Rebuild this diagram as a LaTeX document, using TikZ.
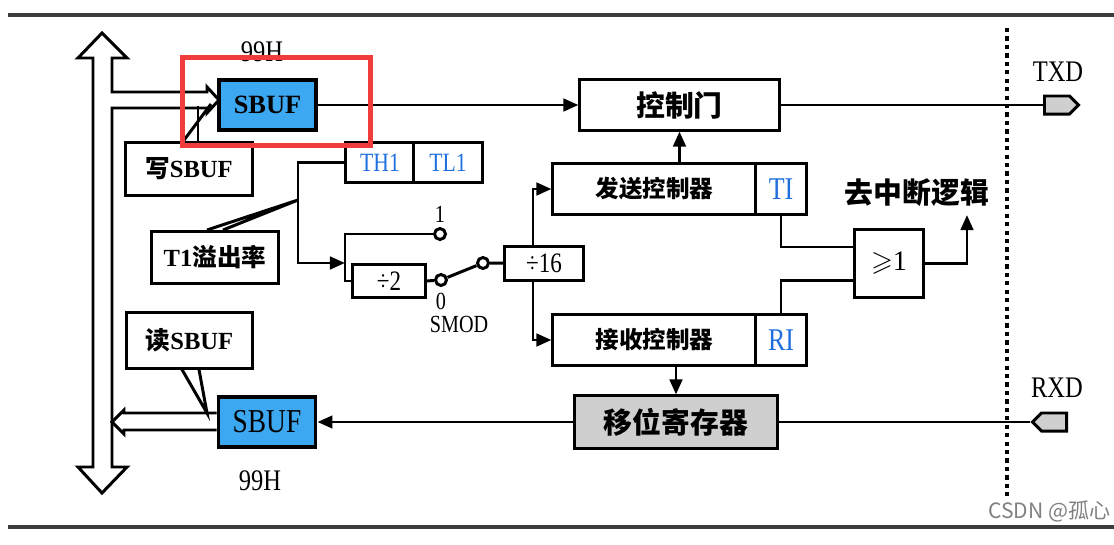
\documentclass[tikz,border=0pt]{standalone}
\usepackage{amssymb}
\usepackage{fontspec}
\setmainfont{Liberation Serif}
\newfontfamily\cjk{Noto Sans CJK SC}
\newfontfamily\cond{Liberation Serif}[FakeStretch=0.82]
\usetikzlibrary{arrows.meta,shapes.symbols}
\definecolor{sbufblue}{HTML}{3DA8F2}
\definecolor{regblue}{HTML}{1F6FDF}
\definecolor{pingray}{HTML}{CFCFCF}
\definecolor{markred}{HTML}{F23B3B}
\definecolor{rulegray}{HTML}{3C3C3C}

\begin{document}
\begin{tikzpicture}[x=0.01cm,y=-0.01cm,line width=0.85pt,
  >={Triangle[length=1.5mm,width=1.25mm]},
  box/.style={draw,fill=white,inner sep=0pt,font=\cond\fontsize{8}{9}\selectfont},
  sbuf/.style={box,fill=sbufblue,line width=1.1pt,minimum width=0.97cm,minimum height=0.5cm},
  note/.style={box,minimum width=1.26cm,minimum height=0.52cm,font=\bfseries\fontsize{7}{8}\selectfont},
  reg/.style={box,text=regblue,minimum width=0.68cm,minimum height=0.4cm,font=\cond\fontsize{7.5}{8}\selectfont},
  ctrl/.style={box,minimum width=2.03cm,minimum height=0.5cm,font=\cjk\bfseries\fontsize{6.7}{8}\selectfont},
  flag/.style={box,text=regblue,minimum width=0.5cm,minimum height=0.5cm,font=\cond\fontsize{9}{10}\selectfont},
  sw/.style={circle,draw,fill=white,inner sep=0pt,minimum size=0.11cm},
  iopad/.style={signal,draw,fill=pingray,inner sep=0pt,minimum width=0.34cm,minimum height=0.18cm},
  lbl/.style={inner sep=0pt,font=\cond\fontsize{8.5}{9}\selectfont},
  small/.style={inner sep=0pt,font=\cond\fontsize{7}{8}\selectfont},
  dotline/.style={line width=1.2pt,dash pattern=on 1.2pt off 1.2pt}]
  \useasboundingbox (0,0) rectangle (1114,545);
  % frame rules
  \draw[rulegray,line width=1pt] (8,15) -- (1114,15);
  \draw[rulegray,line width=1pt] (8,527) -- (1114,527);
  % data bus with write branch
  \draw[fill=white] (93,58) -- (78,58) -- (102,33) -- (127,58) -- (112,58) -- (112,92)
    -- (207,92) -- (207,87) -- (219,100) -- (207,113) -- (207,108) -- (112,108)
    -- (112,467) -- (127,467) -- (102,493) -- (78,467) -- (93,467) -- cycle;
  % blocks
  \node[sbuf,font=\bfseries\fontsize{7.5}{8}\selectfont] (sbufT) at (267.5,105) {SBUF};
  \node[sbuf,font=\cond\fontsize{9.5}{10}\selectfont] (sbufB) at (267,422) {SBUF};
  \node[note] (wrt) at (189,169) {{\cjk 写}SBUF};
  \node[note,minimum height=0.55cm] (rd) at (189.5,340.5) {{\cjk 读}SBUF};
  \node[note] (ovf) at (215,257.5) {T1{\cjk 溢出率}};
  \node[reg] (th1) at (380,162.5) {TH1};
  \node[reg] (tl1) at (448,162.5) {TL1};
  \node[box,minimum width=0.72cm,minimum height=0.32cm] (div2) at (389,281) {÷2};
  \node[box,minimum width=0.78cm,minimum height=0.34cm] (div16) at (544,263.5) {÷16};
  \node[box,minimum width=1.99cm,minimum height=0.5cm,font=\cjk\bfseries\fontsize{8.2}{9}\selectfont] (gate) at (679.5,105) {控制门};
  \node[ctrl] (txc) at (654.5,189) {发送控制器};
  \node[flag] (ti) at (781,189) {TI};
  \node[ctrl] (rxc) at (654.5,340) {接收控制器};
  \node[flag] (ri) at (781,340) {RI};
  \node[box,minimum width=0.68cm,minimum height=0.67cm,font=\fontsize{8}{9}\selectfont] (orgate) at (889,263.5) {$\geqslant$1};
  \node[box,fill=pingray,minimum width=2.02cm,minimum height=0.52cm,font=\cjk\bfseries\fontsize{8.2}{9}\selectfont] (shreg) at (676,422) {移位寄存器};
  \node[sw] (c1) at (440,234) {};
  \node[sw] (c0) at (441,280) {};
  \node[sw] (cs) at (483,263) {};
  \node[iopad,signal to=east] (txd) at (1057,105) {};
  \node[iopad,signal to=west] (rxd) at (1054,422) {};
  % labels
  \node[lbl] (h1) at (262,52) {99H};
  \node[lbl] (h2) at (260,481) {99H};
  \node[small] (one) at (440,214) {1};
  \node[small] (zero) at (441,301) {0};
  \node[small] (smod) at (459,324) {SMOD};
  \node[lbl] (txdl) at (1058,72) {TXD};
  \node[lbl] (rxdl) at (1057,388) {RXD};
  \node[inner sep=0pt,font=\cjk\bfseries\fontsize{8.2}{9}\selectfont] (intl) at (917,193) {去中断逻辑};
  % read branch to bus
  \draw[fill=white] (sbufB.west |- 0,413) -- (124,413) -- (124,410) -- (112,422) -- (124,434)
    -- (124,430) -- (sbufB.west |- 0,430);
  % callouts
  \coordinate (wtip) at (211,104);
  \draw ([xshift=-0.06cm]wrt.north) -- (wtip);
  \draw ([xshift=0.09cm]wrt.north) -- ++(0,-35);
  \coordinate (rtip) at (207,413);
  \draw ([xshift=-0.075cm]rd.south) -- (rtip) -- ([xshift=0.095cm]rd.south);
  \coordinate (tpm) at (298,200);
  \draw ([xshift=-0.08cm]ovf.north) -- (tpm) -- ([xshift=0.08cm]ovf.north);
  % connections
  \coordinate (bk) at (345,263);
  \draw[->] (th1.west) -| (298,263) -- (bk);
  \draw (c1.west) -| (bk) |- (div2.west);
  \draw (div2.east) -- (c0);
  \draw (c0) -- (cs);
  \draw (cs) -- (div16);
  \draw[->] (div16.north -| 533,0) |- (txc.west);
  \draw[->] (div16.south -| 533,0) |- (rxc.west);
  \draw[->] (sbufT) -- (gate);
  \draw (gate) -- (txd);
  \draw[->] (txc.north -| gate.south) -- (gate.south);
  \draw (ti.south) |- ([yshift=0.165cm]orgate.west);
  \draw (ri.north) |- ([yshift=-0.165cm]orgate.west);
  \coordinate (intr) at (967,215);
  \draw[->] (orgate.east) -| (intr);
  \draw (rxd) -- (shreg);
  \draw[->] (shreg) -- (sbufB);
  \draw[->] (rxc.south -| shreg.north) -- (shreg.north);
  % pin boundary
  \draw[dotline] (1007,28) -- (1007,497);
  % marking frame
  \draw[markred,line width=1.45pt] (182.5,57.5) rectangle (370.5,145.5);
  \node[anchor=east,inner sep=0pt,text=gray,font=\cjk\fontsize{6}{7}\selectfont] (wm) at (1112,511) {CSDN @孤心};
\end{tikzpicture}
\end{document}
